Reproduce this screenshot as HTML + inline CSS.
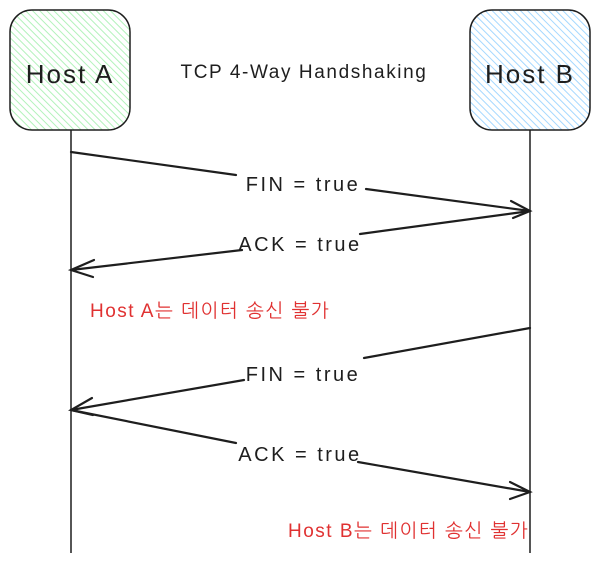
<!DOCTYPE html>
<html><head><meta charset="utf-8"><style>
html,body{margin:0;padding:0;background:#fff;width:600px;height:563px;overflow:hidden}
svg text{font-family:"Liberation Sans","NanumGothic",sans-serif}
</style></head><body>
<svg width="600" height="563" viewBox="0 0 600 563" xmlns="http://www.w3.org/2000/svg">
<defs>
<pattern id="hg" width="5" height="5" patternUnits="userSpaceOnUse" patternTransform="rotate(-45)">
<rect width="5" height="5" fill="#fff"/><line x1="0" y1="0" x2="0" y2="5" stroke="#b2f2bb" stroke-width="2"/></pattern>
<pattern id="hb" width="5" height="5" patternUnits="userSpaceOnUse" patternTransform="rotate(-45)">
<rect width="5" height="5" fill="#fff"/><line x1="0" y1="0" x2="0" y2="5" stroke="#a5d8ff" stroke-width="2"/></pattern>
</defs>
<rect x="10" y="10" width="120" height="120" rx="22" fill="url(#hg)" stroke="#1e1e1e" stroke-width="1.5"/>
<rect x="470" y="10" width="120" height="120" rx="22" fill="url(#hb)" stroke="#1e1e1e" stroke-width="1.5"/>
<text x="70" y="83" font-size="26" letter-spacing="2" text-anchor="middle" fill="#1e1e1e">Host A</text>
<text x="530" y="83" font-size="26" letter-spacing="2" text-anchor="middle" fill="#1e1e1e">Host B</text>
<text x="304" y="78" font-size="19" letter-spacing="1.6" text-anchor="middle" fill="#1e1e1e">TCP 4-Way Handshaking</text>
<g stroke="#1e1e1e" stroke-width="1.5" fill="none">
<line x1="71" y1="130" x2="71" y2="553"/>
<line x1="530" y1="130" x2="530" y2="553"/>
</g>
<g stroke="#1e1e1e" stroke-width="2.2" fill="none" stroke-linecap="round">
<polyline points="71,152 236,175"/><polyline points="366,189 530,211"/>
<polyline points="511,201 530,211 513,218"/>
<polyline points="530,211 360,234"/><polyline points="242,250 71,270"/>
<polyline points="94,260 71,270 93,277"/>
<polyline points="530,328 364,358"/><polyline points="244,380 71,410"/>
<polyline points="92,398 71,410 93,415"/>
<polyline points="71,410 236,443"/><polyline points="358,462 530,492"/>
<polyline points="510,482 530,492 510,499"/>
</g>
<g font-size="20" letter-spacing="2.5" fill="#1e1e1e" text-anchor="middle">
<text x="303" y="191">FIN = true</text>
<text x="300" y="251">ACK = true</text>
<text x="303" y="381">FIN = true</text>
<text x="300" y="461">ACK = true</text>
</g>
<text x="90" y="317" font-size="19" letter-spacing="1.5" fill="#e03131">Host A는 데이터 송신 불가</text>
<text x="288" y="537" font-size="19" letter-spacing="1.5" fill="#e03131">Host B는 데이터 송신 불가</text>
</svg>
</body></html>
